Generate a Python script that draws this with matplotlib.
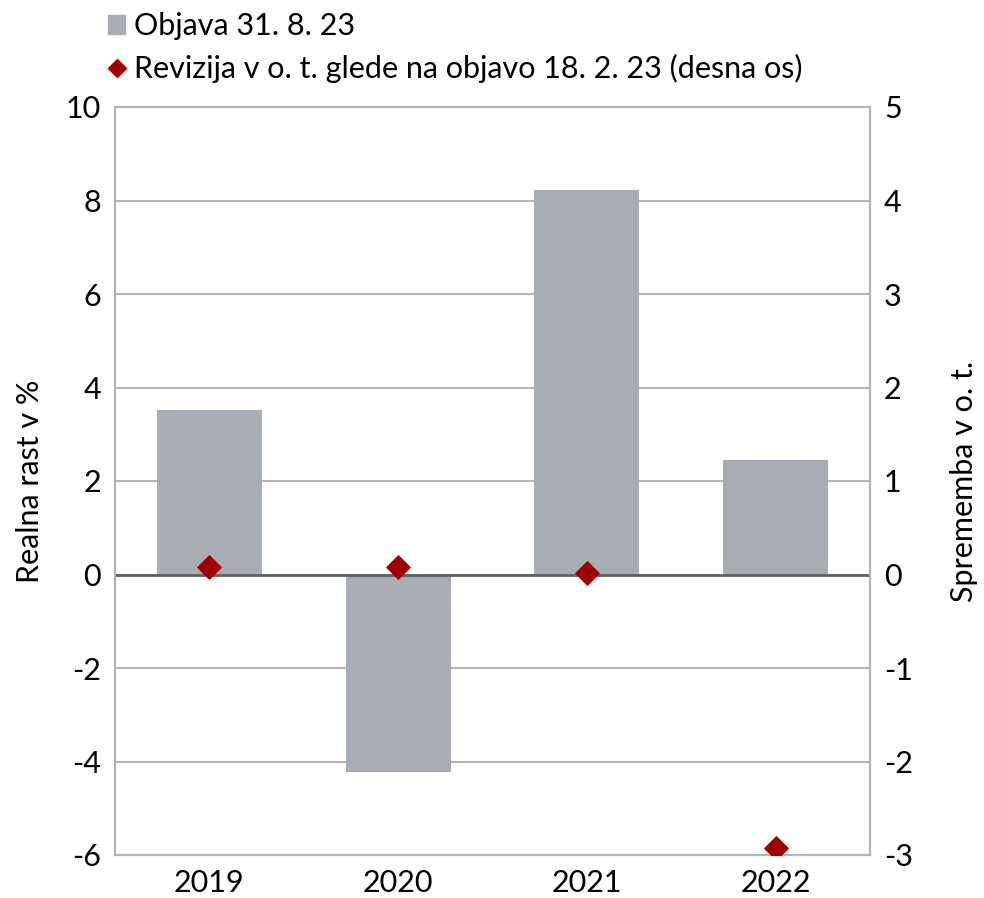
import matplotlib
matplotlib.use("Agg")
import matplotlib.pyplot as plt
from matplotlib.lines import Line2D
from matplotlib.patches import Patch

plt.rcParams['font.family'] = ['Lato', 'DejaVu Sans']
plt.rcParams['axes.unicode_minus'] = False

years = ["2019", "2020", "2021", "2022"]
growth = [3.52, -4.23, 8.23, 2.45]          # Objava 31. 8. 23 (left axis)
revision = [0.085, 0.085, 0.02, -2.92]      # revision, p.p. (right axis)

bar_color = "#A7ADB3"
dia_color = "#A00000"
grid_color = "#B4B4B4"

fig = plt.figure(figsize=(9.84, 8.98), dpi=100)
ax = fig.add_axes([115/984, 1-855/898, (870-115)/984, (855-107)/898])
ax2 = ax.twinx()

x = range(len(years))
ax.bar(x, growth, width=0.555, color=bar_color, zorder=2)
ax.axhline(0, color="#5A6068", lw=2, zorder=3)
ax2.scatter(x, revision, marker="D", s=140, color=dia_color, zorder=5)

ax.set_ylim(-6, 10)
ax.set_yticks(range(-6, 11, 2))
ax2.set_ylim(-3, 5)
ax2.set_yticks(range(-3, 6, 1))
ax.set_xlim(-0.5, 3.5)
ax.set_xticks(list(x))
ax.set_xticklabels(years)

ax.yaxis.grid(True, color=grid_color, lw=1.5, zorder=0)
ax.set_axisbelow(True)
for a in (ax, ax2):
    for s in a.spines.values():
        s.set_color(grid_color)
        s.set_linewidth(1.5)
    a.tick_params(length=0, labelsize=22, pad=10)
ax2.set_zorder(ax.get_zorder() + 1)
ax2.patch.set_visible(False)

ax.set_ylabel("Realna rast v %", fontsize=22, labelpad=16)
ax2.set_ylabel("Sprememba v o. t.", fontsize=22, labelpad=27)

handles = [Patch(color=bar_color),
           Line2D([], [], marker="D", color=dia_color, lw=0, markersize=9)]
labels = ["Objava 31. 8. 23", "Revizija v o. t. glede na objavo 18. 2. 23 (desna os)"]
fig.legend(handles, labels, loc="upper left", bbox_to_anchor=(96/984, 1.0),
           frameon=False, fontsize=22, handlelength=0.55, handleheight=0.6,
           handletextpad=0.3, labelspacing=0.45, borderaxespad=0)

fig.savefig("out.png", dpi=100)
